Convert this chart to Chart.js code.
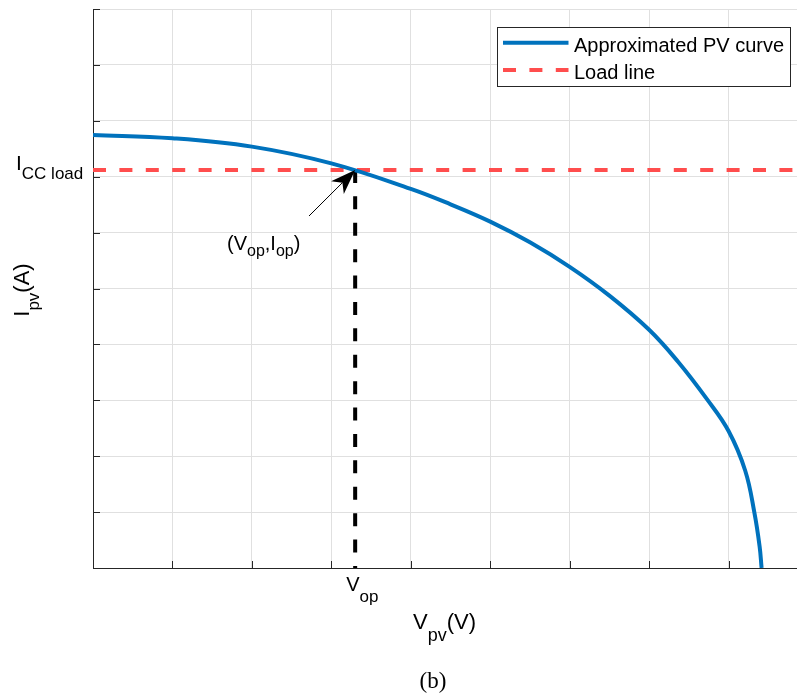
<!DOCTYPE html>
<html>
<head>
<meta charset="utf-8">
<script src="https://cdn.jsdelivr.net/npm/chart.js@4.4.1/dist/chart.umd.min.js"></script>
<style>
  html, body { margin: 0; padding: 0; overflow: hidden; background: #fff; }
  #wrap { width: 815px; height: 695px; }
</style>
</head>
<body>
<div id="wrap"><canvas id="pvChart" width="815" height="695"></canvas></div>
<script>
// approximated PV curve (x: grid units of V, y: grid units of A)
var pvVoltage = [0, 1, 2, 3, 4, 4.5, 5, 5.5, 6, 6.5, 7, 7.367, 7.728, 8, 8.21, 8.324, 8.391, 8.416];
var pvCurrent = [7.747, 7.688, 7.538, 7.238, 6.782, 6.506, 6.197, 5.827, 5.387, 4.872, 4.261, 3.685, 3.02, 2.45, 1.74, 1.0, 0.386, 0];

// load line and operating point
var loadVoltage = [0, 9];
var loadCurrent = [7.121, 7.121];
var vOp = 3.30;
var iOp = 7.121;

// axis limits / ticks (no numeric labels in the figure)
var xTicks = [0, 1, 2, 3, 4, 5, 6, 7, 8, 9];
var yTicks = [0, 1, 2, 3, 4, 5, 6, 7, 8, 9, 10];

var AXIS = '#262626';
var SANS = '"Liberation Sans", Arial, Helvetica, sans-serif';

function pts(xs, ys) {
    return xs.map(function (x, i) { return { x: x, y: ys[i] }; });
}

// text with subscript pieces: parts = [[text, size, dy], ...]
function subText(ctx, parts, x, y) {
    var cx = x;
    parts.forEach(function (p) {
        ctx.font = p[1] + 'px ' + SANS;
        ctx.fillText(p[0], cx, y + p[2]);
        cx += ctx.measureText(p[0]).width;
    });
    return cx - x;
}
function subWidth(ctx, parts) {
    var w = 0;
    parts.forEach(function (p) {
        ctx.font = p[1] + 'px ' + SANS;
        w += ctx.measureText(p[0]).width;
    });
    return w;
}

var decorations = {
    id: 'decorations',
    afterDraw: function (chart) {
        var ctx = chart.ctx;
        var xs = chart.scales.x, ys = chart.scales.y;
        var area = chart.chartArea;
        ctx.save();

        // inward tick marks
        ctx.strokeStyle = AXIS;
        ctx.lineWidth = 1;
        ctx.beginPath();
        xTicks.forEach(function (t) {
            var px = Math.round(xs.getPixelForValue(t)) + 0.5;
            ctx.moveTo(px, area.bottom);
            ctx.lineTo(px, area.bottom - 7);
        });
        yTicks.forEach(function (t) {
            var py = Math.round(ys.getPixelForValue(t)) + 0.5;
            ctx.moveTo(area.left, py);
            ctx.lineTo(area.left + 7, py);
        });
        ctx.stroke();

        ctx.fillStyle = '#000';
        ctx.textBaseline = 'alphabetic';
        ctx.textAlign = 'left';

        // I_CC load tick label
        var yOp = ys.getPixelForValue(iOp);
        subText(ctx, [['I', 21, 0], ['CC load', 17, 9]], 16, yOp);

        // V_op tick label
        var xOp = xs.getPixelForValue(vOp);
        subText(ctx, [['V', 20, 0], ['op', 17, 11]], xOp - 9, area.bottom + 23);

        // x axis title
        subText(ctx, [['V', 22, 0], ['pv', 18, 12], ['(V)', 22, 0]], 413, 629);

        // y axis title (rotated)
        ctx.save();
        ctx.translate(29, 290);
        ctx.rotate(-Math.PI / 2);
        var yt = [['I', 22, 0], ['pv', 17, 10], ['(A)', 22, 0]];
        subText(ctx, yt, -subWidth(ctx, yt) / 2, 0);
        ctx.restore();

        // operating point annotation
        subText(ctx, [['(V', 20, 0], ['op', 16, 6], [',I', 20, 0], ['op', 16, 6], [')', 20, 0]], 227, 250);

        // arrow to operating point
        var tipX = xOp, tipY = yOp, tailX = 309, tailY = 216;
        var dx = tipX - tailX, dy = tipY - tailY, len = Math.sqrt(dx * dx + dy * dy);
        var ux = dx / len, uy = dy / len;
        var hl = 25, hw = 9, notch = 7;
        var bx = tipX - ux * hl, by = tipY - uy * hl;
        ctx.strokeStyle = '#000';
        ctx.lineWidth = 1;
        ctx.beginPath();
        ctx.moveTo(tailX, tailY);
        ctx.lineTo(bx + ux * notch, by + uy * notch);
        ctx.stroke();
        ctx.beginPath();
        ctx.moveTo(tipX, tipY);
        ctx.lineTo(bx - uy * hw, by + ux * hw);
        ctx.lineTo(bx + ux * notch, by + uy * notch);
        ctx.lineTo(bx + uy * hw, by - ux * hw);
        ctx.closePath();
        ctx.fill();

        // (b) caption
        ctx.font = '23px "Liberation Serif", "Times New Roman", serif';
        ctx.textAlign = 'center';
        ctx.fillText('(b)', 433, 688);

        // legend box
        ctx.textAlign = 'left';
        ctx.fillStyle = '#fff';
        ctx.fillRect(497, 27, 293, 59);
        ctx.strokeStyle = AXIS;
        ctx.lineWidth = 1;
        ctx.strokeRect(497.5, 27.5, 293, 59);
        var rows = [42.7, 70];
        chart.data.datasets.slice(0, 2).forEach(function (ds, i) {
            ctx.strokeStyle = ds.borderColor;
            ctx.lineWidth = ds.borderWidth;
            ctx.setLineDash(ds.borderDash || []);
            ctx.beginPath();
            ctx.moveTo(503, rows[i]);
            ctx.lineTo(568.5, rows[i]);
            ctx.stroke();
            ctx.setLineDash([]);
            ctx.fillStyle = '#000';
            ctx.font = '20px ' + SANS;
            ctx.fillText(ds.label, 574, rows[i] + 9);
        });

        ctx.restore();
    }
};

var ctxPv = document.getElementById('pvChart');
var pvChart = new Chart(ctxPv, {
    type: 'line',
    data: {
        datasets: [{
            label: 'Approximated PV curve',
            data: pts(pvVoltage, pvCurrent),
            borderColor: '#0072BD',
            borderWidth: 4,
            pointRadius: 0,
            fill: false,
            tension: 0.4
        }, {
            label: 'Load line',
            data: pts(loadVoltage, loadCurrent),
            borderColor: '#FF4D4D',
            borderWidth: 4,
            borderDash: [13, 13.4],
            pointRadius: 0,
            fill: false
        }, {
            label: 'Vop',
            data: pts([vOp, vOp], [iOp, 0]),
            borderColor: '#000000',
            borderWidth: 4,
            borderDash: [13, 13.4],
            pointRadius: 0,
            fill: false
        }]
    },
    options: {
        responsive: false,
        animation: false,
        layout: { padding: { left: 93, top: 9, right: 7, bottom: 127 } },
        plugins: {
            legend: { display: false },
            tooltip: { enabled: false }
        },
        scales: {
            x: {
                type: 'linear',
                min: 0,
                max: 9,
                ticks: { display: false, stepSize: 1 },
                grid: { color: '#e0e0e0', drawTicks: false },
                border: { display: true, color: AXIS, width: 1 }
            },
            y: {
                type: 'linear',
                min: 0,
                max: 10,
                ticks: { display: false, stepSize: 1 },
                grid: { color: '#e0e0e0', drawTicks: false },
                border: { display: true, color: AXIS, width: 1 }
            }
        }
    },
    plugins: [decorations]
});
</script>
</body>
</html>
